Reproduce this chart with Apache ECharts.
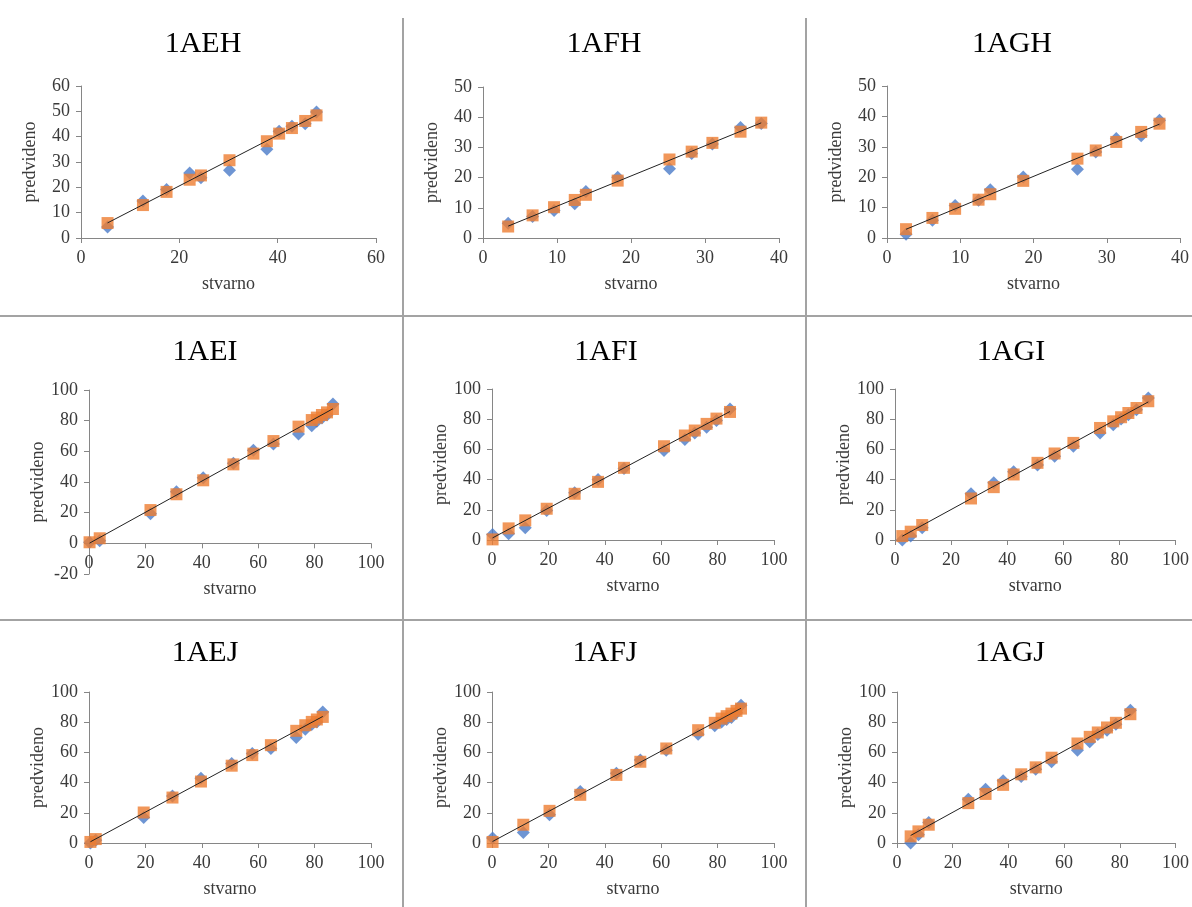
<!DOCTYPE html>
<html>
<head>
	<meta charset="utf-8">
	<title>stvarno / predvideno</title>
	<style>
		html, body, #chart {
			margin: 0;
			padding: 0;
			width: 100%;
			height: 100%;
			background: #fff;
		}
	</style>
	<script src="https://cdn.jsdelivr.net/npm/echarts@6/dist/echarts.min.js"></script>
</head>
<body>
<div id="chart"></div>
<script>

// values: x = stvarno, blue diamonds and orange squares = predvideno
var aehX = [5.4, 12.6, 17.4, 22.1, 24.4, 30.2, 37.8, 40.3, 42.9, 45.6, 47.9];
var aehBlue = [4.3, 14.6, 19.1, 25.7, 23.8, 26.7, 35.0, 42.1, 44.1, 45.1, 49.7];
var aehOrange = [5.9, 13.0, 18.2, 23.0, 24.7, 30.7, 38.2, 41.2, 43.4, 46.2, 48.4];

var afhX = [3.4, 6.7, 9.6, 12.4, 13.9, 18.2, 25.2, 28.2, 31.0, 34.8, 37.6];
var afhBlue = [4.9, 7.1, 9.1, 11.3, 15.4, 20.1, 22.9, 28.0, 31.1, 36.6, 37.9];
var afhOrange = [3.8, 7.5, 10.2, 12.6, 14.3, 19.0, 26.0, 28.6, 31.5, 35.2, 38.2];

var aghX = [2.6, 6.2, 9.3, 12.5, 14.1, 18.6, 26.0, 28.5, 31.3, 34.7, 37.2];
var aghBlue = [1.2, 5.8, 10.7, 12.4, 15.9, 20.1, 22.6, 28.3, 32.7, 33.6, 38.7];
var aghOrange = [2.9, 6.6, 9.6, 12.6, 14.4, 18.8, 26.1, 28.8, 31.6, 34.9, 37.6];

var aeiX = [0.2, 3.8, 21.8, 31.0, 40.5, 51.2, 58.3, 65.4, 74.3, 79.0, 80.8, 82.6, 84.4, 86.5];
var aeiBlue = [0.7, 1.7, 19.3, 33.7, 42.8, 52.2, 60.7, 64.8, 71.3, 76.7, 79.6, 81.7, 83.7, 90.9];
var aeiOrange = [0.7, 3.3, 21.7, 32.0, 41.1, 51.5, 58.5, 66.7, 76.1, 80.4, 82.0, 83.7, 85.4, 87.6];

var afiX = [0.2, 5.9, 11.8, 19.4, 29.3, 37.6, 46.8, 61.0, 68.4, 71.9, 76.1, 79.6, 84.4];
var afiBlue = [3.7, 4.2, 8.1, 19.6, 31.3, 40.1, 47.4, 59.3, 66.5, 70.9, 74.7, 79.1, 86.8];
var afiOrange = [0.4, 7.7, 13.0, 20.7, 30.6, 38.5, 47.8, 62.1, 69.2, 72.5, 76.9, 80.4, 84.8];

var agiX = [2.6, 5.6, 9.7, 27.1, 35.2, 42.3, 50.8, 56.9, 63.6, 73.1, 77.8, 80.6, 83.2, 86.1, 90.3];
var agiBlue = [0, 2.6, 8.1, 30.6, 37.9, 45.2, 49.6, 55.5, 62.1, 70.9, 76.4, 80.2, 83.0, 86.3, 94.1];
var agiOrange = [2.6, 5.5, 9.9, 27.5, 35.0, 43.4, 51.1, 57.3, 64.3, 74.2, 78.6, 81.3, 84.1, 87.4, 91.9];

var aejX = [0.5, 2.4, 19.4, 29.6, 39.7, 50.6, 57.9, 64.5, 73.5, 76.7, 79.0, 80.8, 82.9];
var aejBlue = [0, 1.8, 16.9, 31.2, 42.9, 52.7, 59.3, 62.6, 69.9, 75.4, 78.5, 80.2, 86.8];
var aejOrange = [0.7, 2.6, 20.2, 30.1, 40.7, 51.2, 58.2, 64.8, 74.3, 78.0, 80.2, 81.8, 83.5];

var afjX = [0.2, 11.1, 20.4, 31.3, 44.1, 52.6, 61.8, 73.1, 79.0, 81.4, 83.2, 84.9, 86.7, 88.3];
var afjBlue = [3.3, 7.0, 18.7, 34.1, 46.2, 54.9, 61.5, 72.1, 77.6, 80.2, 81.8, 83.1, 86.2, 91.2];
var afjOrange = [0.7, 12.1, 21.3, 31.9, 45.1, 53.8, 62.6, 74.7, 79.6, 82.4, 84.0, 85.7, 87.5, 89.0];

var agjX = [4.9, 7.7, 11.4, 25.6, 31.8, 38.1, 44.6, 49.8, 55.5, 64.8, 69.2, 72.1, 75.4, 78.6, 83.8];
var agjBlue = [0, 5.5, 13.6, 29.0, 35.6, 41.3, 44.0, 48.8, 53.8, 61.5, 67.0, 71.9, 74.7, 78.7, 87.9];
var agjOrange = [4.4, 7.7, 12.1, 26.4, 32.5, 38.5, 45.5, 50.1, 56.5, 65.9, 70.3, 73.2, 76.5, 79.6, 85.3];

var titles = ['1AEH', '1AFH', '1AGH', '1AEI', '1AFI', '1AGI', '1AEJ', '1AFJ', '1AGJ'];
var xValues = [aehX, afhX, aghX, aeiX, afiX, agiX, aejX, afjX, agjX];
var blueValues = [aehBlue, afhBlue, aghBlue, aeiBlue, afiBlue, agiBlue, aejBlue, afjBlue, agjBlue];
var orangeValues = [aehOrange, afhOrange, aghOrange, aeiOrange, afiOrange, agiOrange, aejOrange, afjOrange, agjOrange];
// axis ranges: [xMax, xInterval, yMin, yMax, yInterval]
var axisRanges = [
	[60, 20, 0, 60, 10], [40, 10, 0, 50, 10], [40, 10, 0, 50, 10],
	[100, 20, -20, 100, 20], [100, 20, 0, 100, 20], [100, 20, 0, 100, 20],
	[100, 20, 0, 100, 20], [100, 20, 0, 100, 20], [100, 20, 0, 100, 20]
];

// layout (pixels)
var gridRects = [
	[81, 86, 295, 152], [483, 87, 296, 151], [887, 86, 295, 152],
	[89, 390, 282, 184], [492, 389, 282, 151], [895, 389, 282, 151],
	[89, 692, 282, 151], [492, 692, 282, 151], [897, 692, 281, 151]
];
var titlePos = [
	[203, 44], [604, 44], [1012, 44],
	[205, 352], [606, 352], [1011, 352],
	[205, 653], [605, 653], [1010, 653]
];

var serif = '"Liberation Serif", "Times New Roman", serif';
var blue = '#4a7bc8';
var orange = '#ed7d31';

function fitLine (xs, ys) {
	var n = xs.length, sx = 0, sy = 0, sxx = 0, sxy = 0;
	for (var i = 0; i < n; i++) {
		sx += xs[i]; sy += ys[i];
		sxx += xs[i] * xs[i]; sxy += xs[i] * ys[i];
	}
	var k = (n * sxy - sx * sy) / (n * sxx - sx * sx);
	var b = (sy - k * sx) / n;
	var x0 = Math.min.apply(null, xs), x1 = Math.max.apply(null, xs);
	return [[x0, k * x0 + b], [x1, k * x1 + b]];
}

function pairs (xs, ys) {
	return xs.map(function (x, i) { return [x, ys[i]]; });
}

var grids = [], xAxes = [], yAxes = [], series = [], graphics = [];

titles.forEach(function (title, i) {
	var r = gridRects[i];
	var ax = axisRanges[i];
	grids.push({ left: r[0], top: r[1], width: r[2], height: r[3] });

	var common = {
		gridIndex: i,
		type: 'value',
		splitLine: { show: false },
		axisLine: { show: true, onZero: false, lineStyle: { color: '#868686', width: 1 } },
		axisTick: { show: true, length: 5, lineStyle: { color: '#868686' } },
		axisLabel: { color: '#3a3a3a', fontFamily: serif, fontSize: 18 },
		nameLocation: 'middle',
		nameTextStyle: { color: '#3a3a3a', fontFamily: serif, fontSize: 18 }
	};
	// when y starts below zero the x axis sits on the zero line
	var zeroShift = ax[2] < 0 ? -r[3] * (-ax[2]) / (ax[3] - ax[2]) : 0;
	xAxes.push(Object.assign({}, common, {
		min: 0, max: ax[0], interval: ax[1],
		offset: zeroShift,
		name: 'stvarno', nameGap: 37,
		axisLabel: Object.assign({}, common.axisLabel, { margin: 11 })
	}));
	yAxes.push(Object.assign({}, common, {
		min: ax[2], max: ax[3], interval: ax[4],
		name: 'predvideno', nameGap: 42, nameRotate: 90,
		axisLabel: Object.assign({}, common.axisLabel, { margin: 11 })
	}));

	series.push({
		type: 'scatter', xAxisIndex: i, yAxisIndex: i,
		symbol: 'diamond', symbolSize: 13,
		itemStyle: { color: blue },
		data: pairs(xValues[i], blueValues[i]),
		z: 2
	});
	series.push({
		type: 'scatter', xAxisIndex: i, yAxisIndex: i,
		symbol: 'rect', symbolSize: 12,
		itemStyle: { color: orange },
		data: pairs(xValues[i], orangeValues[i]),
		z: 3
	});
	series.push({
		type: 'line', xAxisIndex: i, yAxisIndex: i,
		symbol: 'none', silent: true,
		lineStyle: { color: '#222', width: 1 },
		data: fitLine(xValues[i], orangeValues[i]),
		z: 4
	});

	graphics.push({
		type: 'text',
		x: titlePos[i][0], y: titlePos[i][1],
		style: {
			text: title, fill: '#000',
			font: '30px ' + serif,
			textAlign: 'center', textVerticalAlign: 'middle'
		}
	});
});

// panel separators
var sepStyle = { stroke: '#a3a3a3', lineWidth: 2 };
graphics.push({ type: 'line', shape: { x1: 403, y1: 18, x2: 403, y2: 907 }, style: sepStyle });
graphics.push({ type: 'line', shape: { x1: 806, y1: 18, x2: 806, y2: 907 }, style: sepStyle });
graphics.push({ type: 'line', shape: { x1: 0, y1: 316, x2: 1192, y2: 316 }, style: sepStyle });
graphics.push({ type: 'line', shape: { x1: 0, y1: 620, x2: 1192, y2: 620 }, style: sepStyle });

var chart = echarts.init(document.getElementById('chart'));
chart.setOption({
	animation: false,
	backgroundColor: '#fff',
	grid: grids,
	xAxis: xAxes,
	yAxis: yAxes,
	series: series,
	graphic: graphics
});

</script>
</body>
</html>
